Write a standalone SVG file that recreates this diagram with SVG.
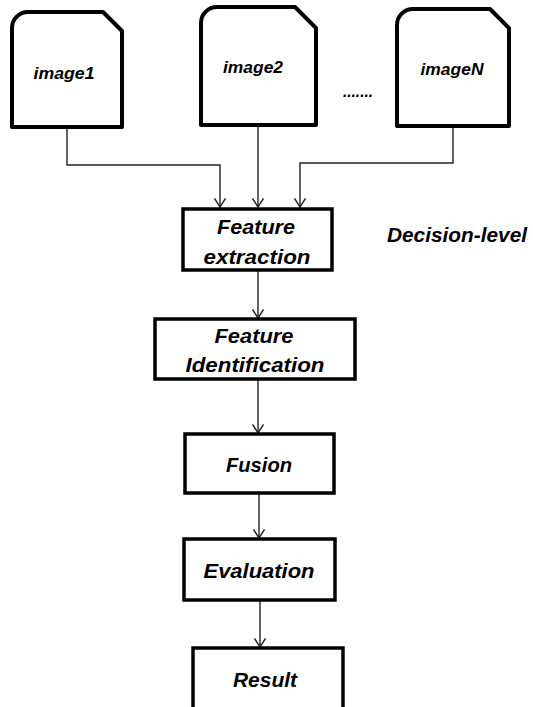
<svg xmlns="http://www.w3.org/2000/svg" width="533" height="707" viewBox="0 0 533 707">
<style>
.shape{fill:#fff;stroke:#000;stroke-width:4;stroke-linejoin:round}
.box{fill:#fff;stroke:#000;stroke-width:3.5}
.conn{fill:none;stroke:#222;stroke-width:1.4}
.t{font-family:"Liberation Sans",Arial,sans-serif;font-weight:bold;font-style:italic;fill:#000;text-anchor:middle}
.lbl{font-size:21px}
.img{font-size:17px}
</style>
<defs>
<marker id="arr" markerUnits="userSpaceOnUse" viewBox="0 0 10 12" markerWidth="10" markerHeight="12" refX="9" refY="6" orient="auto">
<path d="M0.5,0.5 L9,6 L0.5,11.5" fill="none" stroke="#222" stroke-width="1.4"/>
</marker>
</defs>
<rect width="533" height="707" fill="#fff"/>
<g id="connectors">
<path class="conn" d="M67,127 V165 H220 V207" marker-end="url(#arr)"/>
<path class="conn" d="M258,125 V207" marker-end="url(#arr)"/>
<path class="conn" d="M453,126 V163 H300 V207" marker-end="url(#arr)"/>
<path class="conn" d="M258,271 V318" marker-end="url(#arr)"/>
<path class="conn" d="M258,380 V433" marker-end="url(#arr)"/>
<path class="conn" d="M259,494 V538" marker-end="url(#arr)"/>
<path class="conn" d="M260,601 V647" marker-end="url(#arr)"/>
</g>
<g id="image1">
<path class="shape" d="M12,127 V28 A16,16 0 0 1 28,12 H103 L122,31 V127 Z"/>
<text class="t img" x="64" y="79" textLength="61" lengthAdjust="spacingAndGlyphs">image1</text>
</g>
<g id="image2">
<path class="shape" d="M201,125 V23 A16,16 0 0 1 217,7 H295 L316,28 V125 Z"/>
<text class="t img" x="253" y="73" textLength="60" lengthAdjust="spacingAndGlyphs">image2</text>
</g>
<g id="dots">
<text class="t img" x="358" y="97" textLength="30" lengthAdjust="spacingAndGlyphs">.......</text>
</g>
<g id="imageN">
<path class="shape" d="M397,126 V25 A16,16 0 0 1 413,9 H490 L509,28 V126 Z"/>
<text class="t img" x="452" y="75" textLength="63" lengthAdjust="spacingAndGlyphs">imageN</text>
</g>
<g id="feature-extraction">
<rect class="box" x="183" y="209" width="149" height="61"/>
<text class="t lbl" x="256" y="234" textLength="78" lengthAdjust="spacingAndGlyphs">Feature</text>
<text class="t lbl" x="257" y="264" textLength="107" lengthAdjust="spacingAndGlyphs">extraction</text>
</g>
<g id="decision-level">
<text class="t lbl" x="457" y="242" textLength="140" lengthAdjust="spacingAndGlyphs">Decision-level</text>
</g>
<g id="feature-identification">
<rect class="box" x="155" y="319" width="200" height="60"/>
<text class="t lbl" x="254" y="343" textLength="79" lengthAdjust="spacingAndGlyphs">Feature</text>
<text class="t lbl" x="255" y="372" textLength="139" lengthAdjust="spacingAndGlyphs">Identification</text>
</g>
<g id="fusion">
<rect class="box" x="185" y="434" width="149" height="59"/>
<text class="t lbl" x="259" y="472" textLength="66" lengthAdjust="spacingAndGlyphs">Fusion</text>
</g>
<g id="evaluation">
<rect class="box" x="184" y="539" width="151" height="61"/>
<text class="t lbl" x="259" y="578" textLength="111" lengthAdjust="spacingAndGlyphs">Evaluation</text>
</g>
<g id="result">
<rect class="box" x="193" y="648" width="150" height="65"/>
<text class="t lbl" x="265" y="687" textLength="64" lengthAdjust="spacingAndGlyphs">Result</text>
</g>
</svg>
